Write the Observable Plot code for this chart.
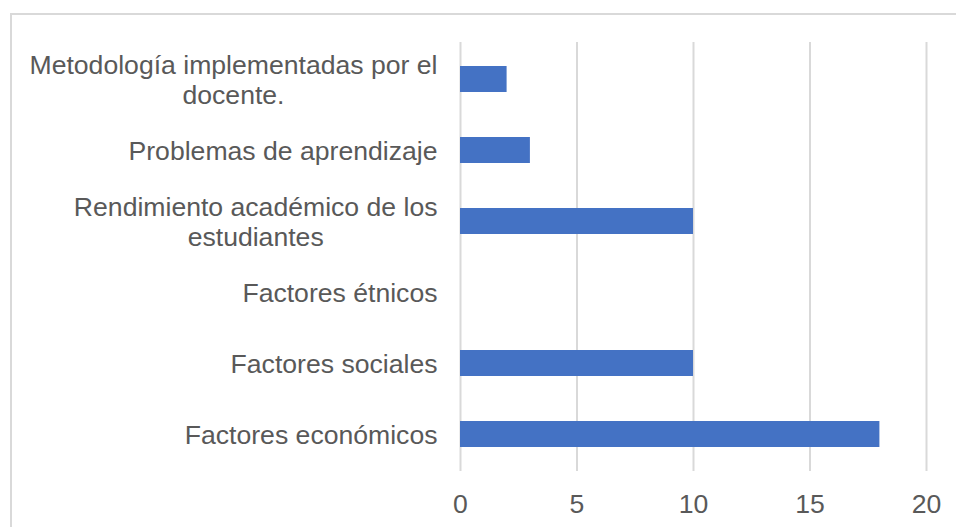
<!DOCTYPE html>
<html>
<head>
<meta charset="utf-8">
<script src="https://cdn.jsdelivr.net/npm/d3@7"></script>
<script src="https://cdn.jsdelivr.net/npm/@observablehq/plot@0.6"></script>
<style>
  html, body { margin: 0; padding: 0; background: #fff; }
  #wrap { position: relative; width: 956px; height: 527px; overflow: hidden; }
  #border { position: absolute; left: 10px; top: 13px; width: 1000px; height: 600px;
            border-left: 2px solid #d9d9d9; border-top: 2px solid #d9d9d9; box-sizing: border-box; }
  #chart { position: absolute; left: 0; top: 0; }
</style>
</head>
<body>
<div id="wrap"><div id="border"></div><div id="chart"></div></div>
<script>
const categories = [
  "Metodología implementadas por el\ndocente.",
  "Problemas de aprendizaje",
  "Rendimiento académico de los\nestudiantes",
  "Factores étnicos",
  "Factores sociales",
  "Factores económicos"
];
const values = [2, 3, 10, 0, 10, 18];
const xTicks = [0, 5, 10, 15, 20];

const data = categories.map((c, i) => ({category: c, value: values[i]}));
const FONT = "Liberation Sans, Arial, sans-serif";

const chart = Plot.plot({
  width: 956,
  height: 527,
  marginLeft: 460,
  marginRight: 30,
  marginTop: 42,
  marginBottom: 56,
  style: {fontFamily: FONT, fontSize: "26.6px", color: "#595959", background: "transparent"},
  x: {domain: [0, 20], ticks: xTicks, tickSize: 0, tickPadding: 23, label: null},
  y: {domain: categories, paddingInner: 0.636, paddingOuter: 0.318, tickSize: 0, tickPadding: 23, label: null},
  marks: [
    Plot.ruleX(xTicks, {stroke: "#d9d9d9", strokeWidth: 2}),
    Plot.barX(data, {x: "value", y: "category", fill: "#4472C4"}),
    Plot.axisY({tickSize: 0, tickPadding: 23, lineHeight: 1.13, fill: "#595959", label: null}),
    Plot.axisX({ticks: xTicks, tickSize: 0, tickPadding: 23, fill: "#595959", label: null})
  ]
});
document.getElementById("chart").appendChild(chart);

// center multi-line category labels as a block, right-aligned to the axis
const axisGroups = chart.querySelectorAll('g[aria-label="y-axis tick label"]');
axisGroups.forEach(g => {
  g.querySelectorAll("text").forEach(t => {
    const spans = t.querySelectorAll("tspan");
    if (spans.length > 1) {
      let w = 0;
      spans.forEach(s => { w = Math.max(w, s.getComputedTextLength()); });
      t.setAttribute("text-anchor", "middle");
      spans.forEach(s => s.setAttribute("x", -w / 2));
    }
  });
});
</script>
</body>
</html>
